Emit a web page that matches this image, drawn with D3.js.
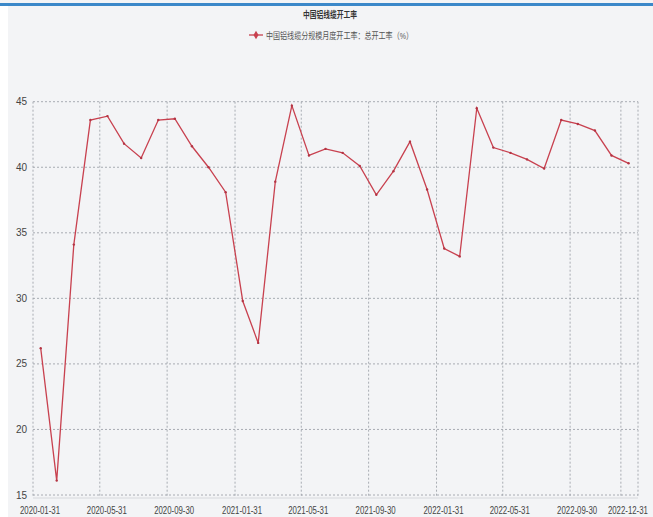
<!DOCTYPE html>
<html>
<head>
<meta charset="utf-8">
<script src="https://cdn.jsdelivr.net/npm/d3@7"></script>
<style>
  body { margin:0; background:#fff; }
  text { font-family: "Liberation Sans", "Noto Sans CJK SC", sans-serif; }
</style>
</head>
<body>
<svg width="653" height="517"></svg>
<script>
// monthly totals, 2020-01 .. 2022-12
var months = [];
for (var yy = 2020; yy <= 2022; yy++) {
  for (var mm = 0; mm < 12; mm++) months.push(new Date(yy, mm + 1, 0));
}
var rates = [26.2, 16.1, 34.1, 43.6, 43.9, 41.8, 40.7, 43.6, 43.7, 41.6, 40.0, 38.1,
             29.8, 26.6, 38.9, 44.7, 40.9, 41.4, 41.1, 40.1, 37.9, 39.7, 41.95, 38.3,
             33.8, 33.2, 44.5, 41.5, 41.1, 40.6, 39.9, 43.6, 43.3, 42.8, 40.9, 40.3];
var tickLabels = ["2020-01-31","2020-05-31","2020-09-30","2021-01-31","2021-05-31",
                  "2021-09-30","2022-01-31","2022-05-31","2022-09-30","2022-12-31"];
var yTicks = [15, 20, 25, 30, 35, 40, 45];

var title = "中国铝线缆开工率";
var seriesName = "中国铝线缆分规模月度开工率：总开工率（%）";

var svg = d3.select("svg");
var parse = d3.timeParse("%Y-%m-%d");

// backdrop
svg.append("rect").attr("x",0).attr("y",0).attr("width",653).attr("height",517).attr("fill","#f3f4f6");
svg.append("rect").attr("x",0).attr("y",6).attr("width",8).attr("height",511).attr("fill","#ffffff");
svg.append("rect").attr("x",0).attr("y",3).attr("width",653).attr("height",3).attr("fill","#3b88c9");

var x = d3.scaleTime()
  .domain([parse("2020-01-31"), parse("2023-01-31")])
  .range([33, 638]);
var y = d3.scaleLinear().domain([15, 45]).range([495, 101.7]);

var shift = 7.7; // points sit half a month right of the grid

// grid
var grid = svg.append("g");
grid.selectAll(".vg").data(tickLabels).enter().append("line")
  .attr("x1", function(d){ return x(parse(d)); })
  .attr("x2", function(d){ return x(parse(d)); })
  .attr("y1", 101.7).attr("y2", 497)
  .attr("stroke","#969aa2").attr("stroke-width",0.8).attr("stroke-dasharray","2,2");
grid.append("line").attr("x1",638).attr("x2",638).attr("y1",101.7).attr("y2",497)
  .attr("stroke","#969aa2").attr("stroke-width",0.8).attr("stroke-dasharray","2,2");
grid.selectAll(".hg").data(yTicks).enter().append("line")
  .attr("x1", 33).attr("x2", 638)
  .attr("y1", function(d){ return y(d); })
  .attr("y2", function(d){ return y(d); })
  .attr("stroke","#969aa2").attr("stroke-width",0.8).attr("stroke-dasharray","2,2");
grid.append("line").attr("x1",33).attr("x2",638).attr("y1",498).attr("y2",498)
  .attr("stroke","#d6d8dc").attr("stroke-width",1);

// y labels
svg.append("g").selectAll("text").data(yTicks).enter().append("text")
  .attr("x", 27).attr("y", function(d){ return y(d) + 3.5; })
  .attr("text-anchor","end").attr("font-size",10).attr("fill","#444")
  .text(function(d){ return d; });

// x labels
svg.append("g").selectAll("text").data(tickLabels).enter().append("text")
  .attr("x", function(d){ return x(parse(d)) + 7; })
  .attr("y", 514)
  .attr("text-anchor","middle").attr("font-size",10).attr("fill","#444")
  .attr("textLength",40).attr("lengthAdjust","spacingAndGlyphs")
  .text(function(d){ return d; });

// series
var pts = months.map(function(m, i){ return {date:m, v:rates[i]}; });
var line = d3.line()
  .x(function(d){ return x(d.date) + shift; })
  .y(function(d){ return y(d.v); });
svg.append("path").datum(pts)
  .attr("d", line).attr("fill","none")
  .attr("stroke","#c8414f").attr("stroke-width",1.3);
svg.append("g").selectAll("circle").data(pts).enter().append("circle")
  .attr("cx", function(d){ return x(d.date) + shift; })
  .attr("cy", function(d){ return y(d.v); })
  .attr("r", 1.2).attr("fill","#b33443");

// title and legend
svg.append("text").attr("x", 330).attr("y", 18).attr("text-anchor","middle")
  .attr("font-size",9).attr("font-weight","bold").attr("fill","#333")
  .attr("textLength",54).attr("lengthAdjust","spacingAndGlyphs")
  .text(title);
svg.append("line").attr("x1",249).attr("x2",263).attr("y1",35).attr("y2",35)
  .attr("stroke","#c8414f").attr("stroke-width",1.3);
svg.append("path").attr("d", d3.symbol().type(d3.symbolDiamond).size(22)())
  .attr("transform","translate(256,35)").attr("fill","#c8414f");
svg.append("text").attr("x", 266).attr("y", 38.5)
  .attr("font-size",9).attr("fill","#555")
  .attr("textLength",147).attr("lengthAdjust","spacingAndGlyphs")
  .text(seriesName);
</script>
</body>
</html>
